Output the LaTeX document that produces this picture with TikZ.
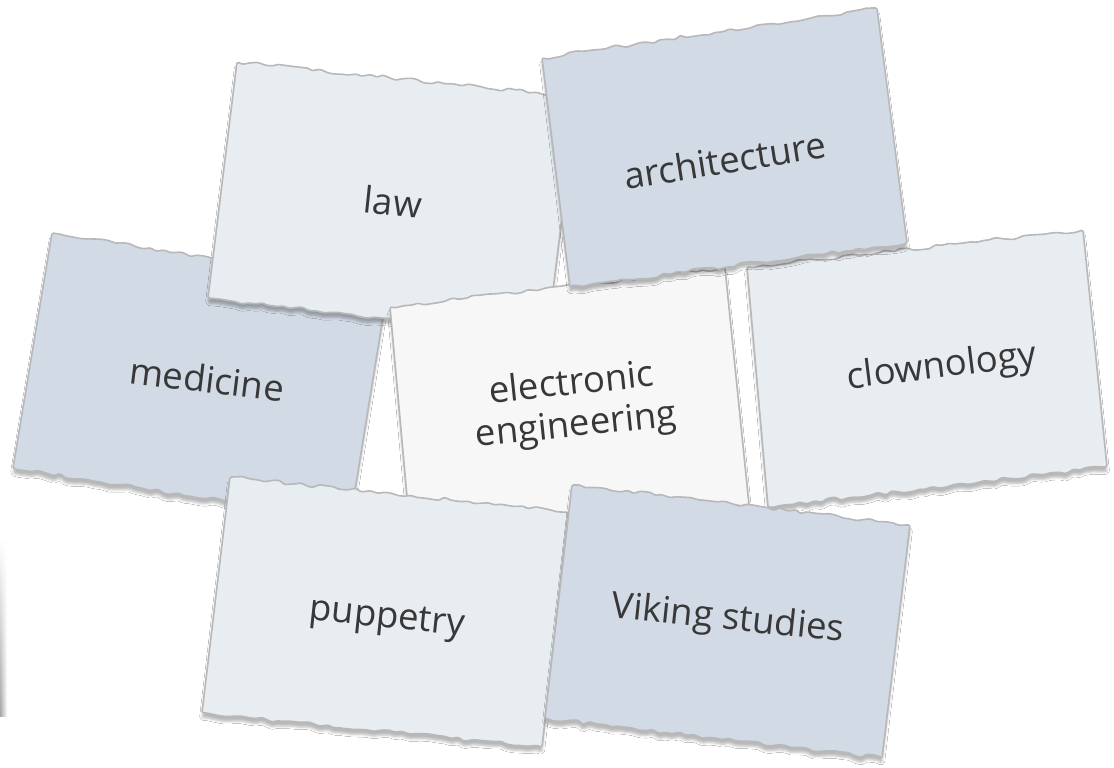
\documentclass[tikz,border=0pt]{standalone}
\usepackage{fontspec}
\setmainfont{Open Sans}
\usepackage{tikz}
\usetikzlibrary{decorations.pathmorphing,shadows.blur,fadings}
\definecolor{cardA}{HTML}{E8EDF2}
\definecolor{cardB}{HTML}{D2DAE5}
\definecolor{cardC}{HTML}{F7F7F7}
\definecolor{cardedge}{HTML}{B8B8B8}
\definecolor{ink}{HTML}{383838}
\tikzset{
	card/.style={draw=cardedge, line width=1.6pt, rounded corners=1.4pt,
		decoration={random steps, segment length=7pt, amplitude=2pt},
		blur shadow={shadow xshift=0pt, shadow yshift=-5pt,
			shadow blur radius=2.5pt, shadow opacity=28}},
	lbl/.style={text=ink, font=\fontsize{36.5}{42}\selectfont, align=center, inner sep=0pt}
}
\begin{document}
\begin{tikzpicture}[x=1pt,y=-1pt]
	\useasboundingbox (0,0) rectangle (1114,768);
	\fill[white] (0,0) rectangle (1114,768);
	\pgfmathsetseed{11}
	% card corners, read top left, top right, bottom right, bottom left
	\coordinate (medicine-tl) at (52,233);  \coordinate (medicine-tr) at (388,286);
	\coordinate (medicine-br) at (350,521); \coordinate (medicine-bl) at (13,468);
	\coordinate (law-tl) at (237,62);       \coordinate (law-tr) at (577,97);
	\coordinate (law-br) at (547,338);      \coordinate (law-bl) at (208,298);
	\coordinate (clown-tl) at (747,267);    \coordinate (clown-tr) at (1083,230);
	\coordinate (clown-br) at (1107,467);   \coordinate (clown-bl) at (768,507);
	\coordinate (elec-tl) at (390,307);     \coordinate (elec-tr) at (725,268);
	\coordinate (elec-br) at (749,505);     \coordinate (elec-bl) at (411,541);
	\coordinate (arch-tl) at (542,58);      \coordinate (arch-tr) at (877,8);
	\coordinate (arch-br) at (907,243);     \coordinate (arch-bl) at (570,287);
	\coordinate (puppet-tl) at (230,477);   \coordinate (puppet-tr) at (568,512);
	\coordinate (puppet-br) at (542,747);   \coordinate (puppet-bl) at (202,713);
	\coordinate (viking-tl) at (572,485);   \coordinate (viking-tr) at (910,525);
	\coordinate (viking-br) at (882,758);   \coordinate (viking-bl) at (545,718);
	% shadow of a card just off the left edge
	\shade[left color=gray!70, right color=white, path fading=north]
		(0,540) rectangle (7,716);
	% the torn cards, back to front
	\foreach \c/\f in {medicine/cardB, law/cardA, clown/cardA, elec/cardC,
		arch/cardB, puppet/cardA, viking/cardB}
		\draw[card, fill=\f] (\c-tl) decorate{ -- (\c-tr)} -- (\c-br)
			decorate{ -- (\c-bl)} -- cycle;
	\node[lbl, rotate=-7] (medicine) at (207,379) {medicine};
	\node[lbl, rotate=-6] (law) at (393,202) {law};
	\node[lbl, rotate=7] (clownology) at (942,368) {clownology};
	\node[lbl, rotate=6] (electronic) at (574,406) {electronic\\engineering};
	\node[lbl, rotate=9] (architecture) at (725,160) {architecture};
	\node[lbl, rotate=-6] (puppetry) at (387,620) {puppetry};
	\node[lbl, rotate=-6] (viking) at (728,620) {Viking studies};
\end{tikzpicture}
\end{document}
